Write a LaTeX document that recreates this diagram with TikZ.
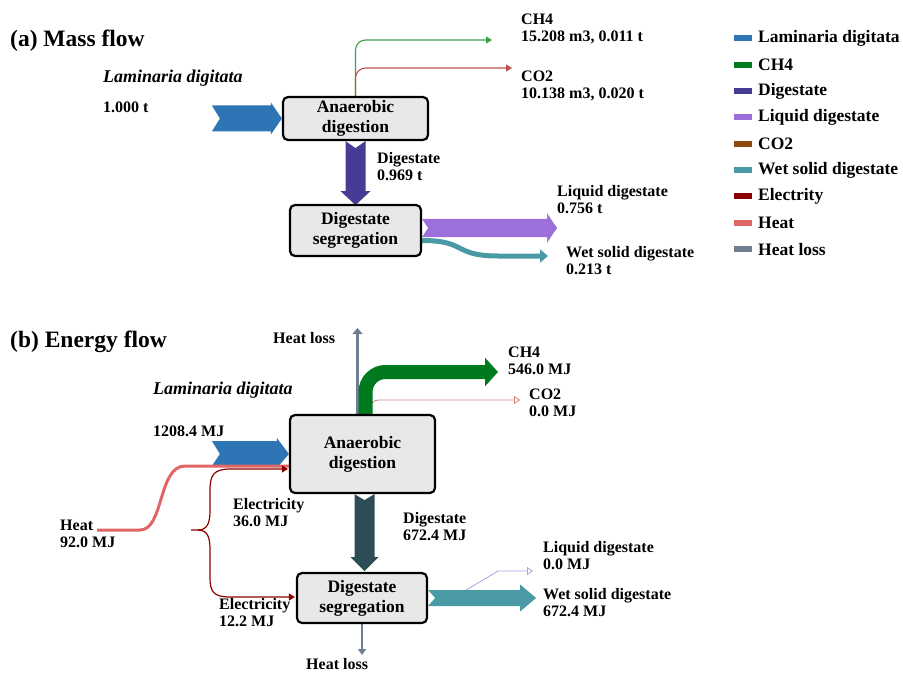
\documentclass[tikz,border=0pt]{standalone}
\usepackage{fontspec}
\setmainfont{Liberation Serif}
\usetikzlibrary{arrows.meta,calc,backgrounds}
\definecolor{lam}{HTML}{2E75B6}
\definecolor{ch4c}{HTML}{007A1F}
\definecolor{ch4thin}{HTML}{3E9E4C}
\definecolor{dig}{HTML}{463C95}
\definecolor{digb}{HTML}{2C4C56}
\definecolor{liq}{HTML}{9B70DB}
\definecolor{liqthin}{HTML}{B3A0E3}
\definecolor{co2c}{HTML}{8E4B10}
\definecolor{co2red}{HTML}{C0504D}
\definecolor{co2pink}{HTML}{D98080}
\definecolor{wet}{HTML}{4A9AA6}
\definecolor{elec}{HTML}{8B0000}
\definecolor{heatc}{HTML}{E06666}
\definecolor{hloss}{HTML}{6E7F91}
\begin{document}
\begin{tikzpicture}[x=1pt,y=-1pt,
  box/.style={draw=black, line width=2.2pt, rounded corners=5pt, fill=gray!18, align=center,
    font=\fontsize{17.5}{20}\selectfont\bfseries, inner sep=0pt},
  lbl/.style={anchor=west, align=left, inner sep=0pt, font=\fontsize{16}{17}\selectfont\bfseries},
  ttl/.style={anchor=west, inner sep=0pt, font=\fontsize{23.5}{26}\selectfont\bfseries},
  ital/.style={anchor=west, inner sep=0pt, font=\fontsize{18}{20}\selectfont\bfseries\itshape},
  leg/.style={anchor=west, inner sep=0pt, font=\fontsize{17.5}{19}\selectfont\bfseries},
  thintip/.style={-{Triangle[length=6pt,width=7pt]}},
  opentip/.style={-{Triangle[open,length=6pt,width=8pt]}},
]
\useasboundingbox (0,0) rectangle (903,674);

% ---------------- (a) Mass flow ----------------
\node[ttl] (ta) at (10,41) {(a) Mass flow};
\node[box, minimum width=145pt, minimum height=43pt] (ad) at (355.5,118.5) {Anaerobic\\digestion};
\node[box, minimum width=131pt, minimum height=51pt] (ds) at (355.5,230.5) {Digestate\\segregation};

\node[ital] (lama) at (103,78) {Laminaria digitata};
\node[lbl] (lamav) at (103,107) {1.000 t};
\node[lbl] (ch4la) at (521,28.5) {CH4\\15.208 m3, 0.011 t};
\node[lbl] (co2la) at (521,86) {CO2\\10.138 m3, 0.020 t};
\node[lbl] (digla) at (377,166.5) {Digestate\\0.969 t};
\node[lbl] (liqla) at (557,199.5) {Liquid digestate\\0.756 t};
\node[lbl] (wetla) at (566,261) {Wet solid digestate\\0.213 t};

\coordinate (ch4a) at (492,40);
\coordinate (co2a) at (512,68);
\coordinate (wa) at (548,256);

\begin{scope}[on background layer]
\fill[lam, shift={(ad.west)}] (-70,-13) -- (-11,-13) -- (-11,-16) -- (0,0) -- (-11,16) -- (-11,13) -- (-70,13) -- (-62,0) -- cycle;
\draw[ch4thin, line width=1.1pt, rounded corners=10pt, thintip] (ad.north) |- (ch4a);
\draw[co2red, line width=1.1pt, rounded corners=10pt, thintip] (ad.north) |- (co2a);
\fill[dig, shift={(ad.south)}] (-10,0) -- (0,7) -- (10,0) -- (10,50) -- (15,50) -- (0,64) -- (-15,50) -- (-10,50) -- cycle;
\draw[wet, line width=5pt, -{Triangle[length=8pt,width=13pt]}] ($(ds.east)+(0,10)$) .. controls +(45,0) and +(-45,0) .. ($(wa)+(-50,0)$) -- (wa);
\fill[liq, shift={(ds.east)}] (0,-11.5) -- (125,-11.5) -- (125,-17) -- (135,-2.5) -- (125,12) -- (125,6.5) -- (0,6.5) -- (6,-2.5) -- cycle;
\end{scope}

% legend
\foreach \c/\t [count=\i from 0] in {lam/Laminaria digitata, ch4c/CH4, dig/Digestate, liq/Liquid digestate, co2c/CO2, wet/Wet solid digestate, elec/Electrity, heatc/Heat, hloss/Heat loss}{
  \pgfmathsetmacro\yy{38.3+26.35*\i}
  \fill[\c] (734,\yy-3) rectangle (752,\yy+3);
  \node[leg] (leg\i) at (758,\yy) {\t};
}

% ---------------- (b) Energy flow ----------------
\node[ttl] (tb) at (10,342) {(b) Energy flow};
\node[box, minimum width=145pt, minimum height=78pt] (adb) at (362.5,454) {Anaerobic\\digestion};
\node[box, minimum width=130pt, minimum height=50pt] (dsb) at (362,598) {Digestate\\segregation};

\node[lbl] (hlb1) at (273,338) {Heat loss};
\node[ital] (lamb) at (153,390) {Laminaria digitata};
\node[lbl] (lambv) at (153,431) {1208.4 MJ};
\node[lbl] (ch4lb) at (508,360.5) {CH4\\546.0 MJ};
\node[lbl] (co2lb) at (529,403) {CO2\\0.0 MJ};
\node[lbl] (heatlb) at (60,534) {Heat\\92.0 MJ};
\node[lbl] (el1lb) at (233,512.5) {Electricity\\36.0 MJ};
\node[lbl] (el2lb) at (219,613) {Electricity\\12.2 MJ};
\node[lbl] (diglb) at (403,526.5) {Digestate\\672.4 MJ};
\node[lbl] (liqlb) at (543,556) {Liquid digestate\\0.0 MJ};
\node[lbl] (wetlb) at (543,602.5) {Wet solid digestate\\672.4 MJ};
\node[lbl] (hlb2) at (306,664) {Heat loss};

\coordinate (ch4b) at (498,372);
\coordinate (co2b) at (520,400);
\coordinate (hlup) at (357.5,328);
\coordinate (hldown) at (362,655);
\coordinate (heatin) at (97,530);
\coordinate (elin) at (191,530);
\coordinate (liqb) at (533,571);

\begin{scope}[on background layer]
\fill[lam, shift={(adb.west)}] (-77,-13) -- (-12,-13) -- (-12,-16) -- (0,0) -- (-12,14) -- (-12,12) -- (-77,12) -- (-69,0) -- cycle;
\draw[heatc, line width=3pt] (heatin) -- (140,530) .. controls (164,530) and (158,466) .. (185,466) -- ($(adb.west)+(0,12)$);
\draw[elec, line width=1.2pt, thintip] (elin) -- (198,530) .. controls (208,530) and (210,522) .. (210,510) -- (210,490) .. controls (210,475) and (214,469) .. (230,469) -- ($(adb.west)+(-1,15)$);
\draw[elec, line width=1.2pt, thintip] (198,530) .. controls (208,530) and (210,538) .. (210,550) -- (210,578) .. controls (210,592) and (214,597) .. (230,597) -- ($(dsb.west)+(-1,-1)$);
\draw[hloss, line width=3pt, -{Triangle[length=6pt,width=10pt]}] ($(adb.north)+(-5,0)$) -- (hlup);
\draw[co2pink, line width=0.8pt, rounded corners=8pt, opentip] ($(adb.north)+(8,0)$) |- (co2b);
\draw[ch4c, line width=14pt, rounded corners=20pt, -{Triangle[length=13pt,width=28pt]}] ($(adb.north)+(3,0)$) |- (ch4b);
\fill[digb, shift={($(adb.south)+(2,0)$)}] (-10,0) -- (0,6) -- (10,0) -- (10,63) -- (14,63) -- (0,77) -- (-14,63) -- (-10,63) -- cycle;
\draw[hloss, line width=1.5pt, -{Triangle[length=6pt,width=8pt]}] (dsb.south) -- (hldown);
\draw[liqthin, line width=0.8pt, opentip] ($(dsb.east)+(38,-8)$) -- ++(32,-19) -- (liqb);
\fill[wet, shift={(dsb.east)}] (0,-8) -- (92,-8) -- (92,-13.5) -- (108,0) -- (92,13.5) -- (92,8) -- (0,8) -- (7,0) -- cycle;
\end{scope}
\end{tikzpicture}
\end{document}
